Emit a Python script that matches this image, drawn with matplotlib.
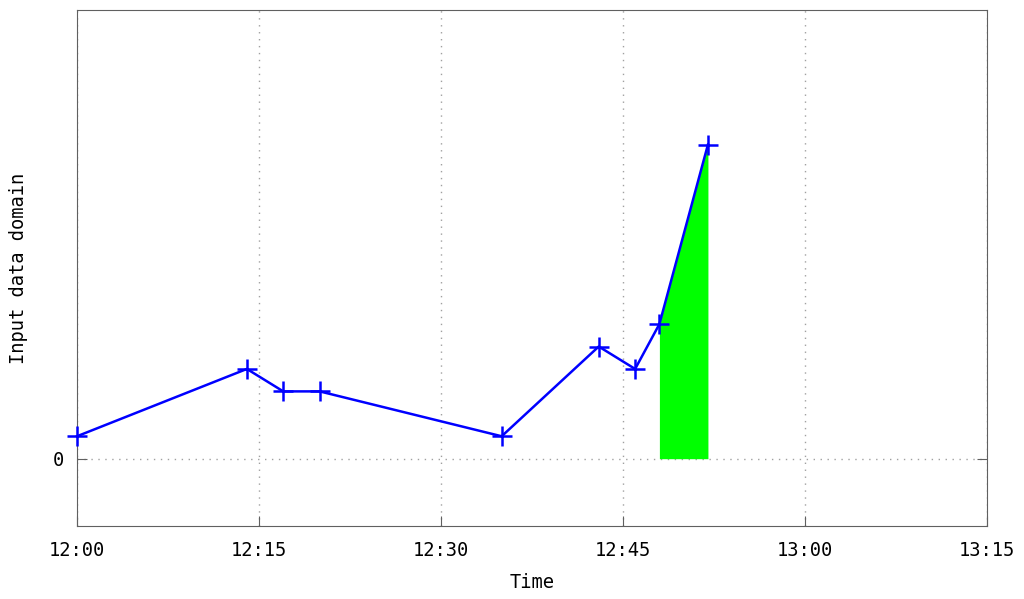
import matplotlib.pyplot as plt
import matplotlib.dates as mdates
import datetime as dt

# data
times = ["12:00", "12:14", "12:17", "12:20", "12:35", "12:43", "12:46", "12:48", "12:52"]
values = [1, 4, 3, 3, 1, 5, 4, 6, 14]
fill_start = "12:48"
fill_end = "12:52"
xticks = ["12:00", "12:15", "12:30", "12:45", "13:00", "13:15"]


def t(s):
    h, m = s.split(":")
    return dt.datetime(2020, 1, 1, int(h), int(m))


x = [t(s) for s in times]

plt.rcParams['font.family'] = ['DejaVu Sans Mono']
plt.rcParams['font.size'] = 13.5

fig = plt.figure(figsize=(10.24, 5.99), dpi=100)
ax = fig.add_axes([77/1024, 1-526/599, 910/1024, 516/599])

# green area under the last part of the line
fx = [xi for xi in x if t(fill_start) <= xi <= t(fill_end)]
fy = [v for xi, v in zip(x, values) if t(fill_start) <= xi <= t(fill_end)]
ax.fill_between(fx, fy, 0, color='#00ff00', lw=0, zorder=2)

ax.plot(x, values, color='#0000ff', lw=1.8, marker='+', ms=15, mew=1.8,
        zorder=3, clip_on=False)

ax.set_xlim(t("12:00"), t("13:15"))
ax.set_ylim(-3, 20)
ax.set_xticks([t(s) for s in xticks])
ax.xaxis.set_major_formatter(mdates.DateFormatter("%H:%M"))
ax.set_yticks([0])

ax.grid(True, color='#a0a0a0', linestyle=(0, (1, 4)), lw=1)
ax.tick_params(direction='in', length=7, color='#606060', pad=11)
ax.tick_params(axis='y', right=True, pad=9)
for s in ax.spines.values():
    s.set_color('#606060')

ax.set_xlabel("Time", labelpad=9)
ax.set_ylabel("Input data domain", labelpad=18)

fig.savefig("out.png", dpi=100)
